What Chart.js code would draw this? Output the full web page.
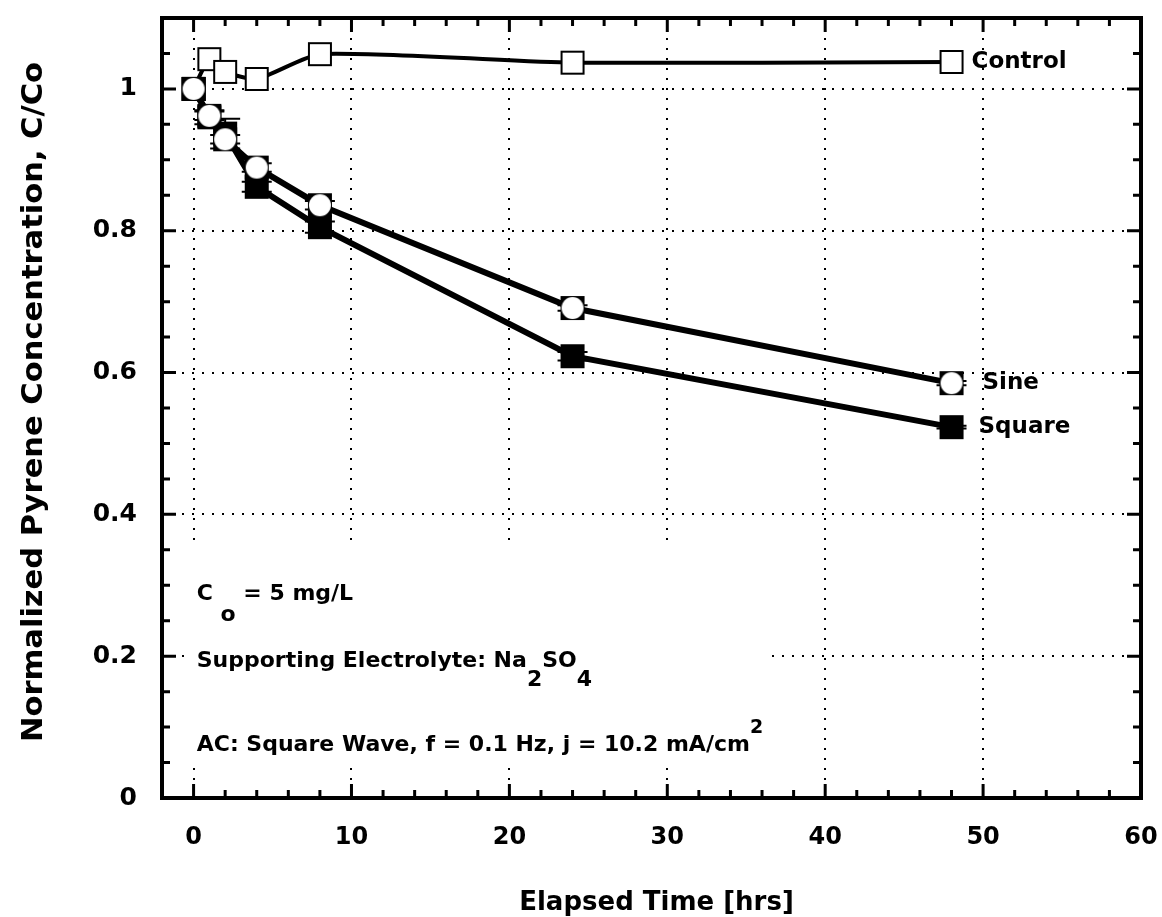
<!DOCTYPE html>
<html>
<head>
<meta charset="utf-8">
<script src="https://cdn.jsdelivr.net/npm/chart.js@4/dist/chart.umd.min.js"></script>
<style>
  html, body { margin: 0; padding: 0; background: #fff; }
</style>
</head>
<body>
<canvas id="pyreneChart" width="1162" height="917"></canvas>
<script>
// values
const timeHrs = [0, 1, 2, 4, 8, 24, 48];
const controlConc = [1.000, 1.042, 1.024, 1.014, 1.049, 1.037, 1.038];
const sineConc = [1.000, 0.962, 0.929, 0.889, 0.836, 0.691, 0.585];
const squareConc = [1.000, 0.960, 0.937, 0.862, 0.805, 0.623, 0.523];
const squareErr = [0, 0.010, 0.021, 0.007, 0.008, 0.006, 0.002];
const sineErr = [0, 0.006, 0.006, 0.006, 0.006, 0.004, 0.003];
const seriesNames = ['Sine', 'Square', 'Control'];
const xTickValues = [0, 10, 20, 30, 40, 50, 60];
const yTickValues = [0, 0.2, 0.4, 0.6, 0.8, 1];
const yTickLabels = ['0', '0.2', '0.4', '0.6', '0.8', '1'];

const FONT = 'DejaVu Sans';

function toPoints(ys) {
  return timeHrs.map((t, i) => ({ x: t, y: ys[i] }));
}

// small canvases used as point markers
function makeMarker(kind) {
  const c = document.createElement('canvas');
  c.width = 28; c.height = 28;
  const g = c.getContext('2d');
  if (kind === 'square') {
    g.fillStyle = '#000';
    g.fillRect(2, 2, 24, 24);
  } else if (kind === 'sine') {
    g.fillStyle = '#000';
    g.fillRect(2, 2, 24, 24);
    g.fillStyle = '#fff';
    g.beginPath();
    g.arc(14, 14, 11, 0, Math.PI * 2);
    g.fill();
  } else {
    g.fillStyle = '#fff';
    g.fillRect(3, 3, 22, 22);
    g.strokeStyle = '#000';
    g.lineWidth = 2;
    g.strokeRect(3, 3, 22, 22);
  }
  return c;
}

// draws text made of runs; shift > 0 lowers (subscript), < 0 raises
function drawRuns(ctx, x, y, runs, size) {
  let cx = x;
  runs.forEach(([text, shift, s]) => {
    ctx.font = 'bold ' + (s || size) + 'px "' + FONT + '"';
    ctx.fillText(text, cx, y + shift);
    cx += ctx.measureText(text).width;
  });
}

const labelOffsets = { Control: 20, Sine: 31, Square: 27 };

const decorations = {
  id: 'decorations',
  beforeDatasetsDraw(chart) {
    const { ctx, scales: { x, y } } = chart;
    ctx.save();
    // blank panel behind the notes (hides the grid)
    const bx0 = x.getPixelForValue(-0.35), bx1 = x.getPixelForValue(36.5);
    const by0 = y.getPixelForValue(0.353), by1 = y.getPixelForValue(0.05);
    ctx.fillStyle = '#fff';
    ctx.fillRect(bx0, by0, bx1 - bx0, by1 - by0);

    ctx.fillStyle = '#000';
    ctx.textAlign = 'left';
    ctx.textBaseline = 'alphabetic';
    const tx = x.getPixelForValue(0.2);
    drawRuns(ctx, tx, 600, [['C', 0], [' o', 21], [' = 5 mg/L', 0]], 22);
    drawRuns(ctx, tx, 667, [['Supporting Electrolyte: Na', 0], ['2', 19], ['SO', 0], ['4', 19]], 22);
    drawRuns(ctx, tx, 751, [['AC: Square Wave, f = 0.1 Hz, j = 10.2 mA/cm', 0], ['2', -18, 19]], 22);

    // error bars under the markers
    ctx.strokeStyle = '#000';
    ctx.lineWidth = 2;
    [[squareConc, squareErr], [sineConc, sineErr]].forEach(([vals, errs]) => {
      vals.forEach((v, i) => {
        if (!errs[i]) return;
        const px = x.getPixelForValue(timeHrs[i]);
        const hi = y.getPixelForValue(v + errs[i]);
        const lo = y.getPixelForValue(v - errs[i]);
        ctx.beginPath();
        ctx.moveTo(px, hi); ctx.lineTo(px, lo);
        ctx.moveTo(px - 15, hi); ctx.lineTo(px + 15, hi);
        ctx.moveTo(px - 15, lo); ctx.lineTo(px + 15, lo);
        ctx.stroke();
      });
    });
    ctx.restore();
  },
  afterDatasetsDraw(chart) {
    const { ctx, chartArea: a, scales: { x, y } } = chart;
    ctx.save();
    ctx.strokeStyle = '#000';

    // inward tick marks on all four sides
    ctx.lineWidth = 3;
    ctx.beginPath();
    for (let k = -1; k <= 30; k++) {
      const v = k * 2;
      const px = x.getPixelForValue(v);
      if (px <= a.left + 1 || px >= a.right - 1) continue;
      const len = v % 10 === 0 ? 14 : 8;
      ctx.moveTo(px, a.bottom); ctx.lineTo(px, a.bottom - len);
      ctx.moveTo(px, a.top); ctx.lineTo(px, a.top + len);
    }
    for (let k = 1; k <= 21; k++) {
      const py = y.getPixelForValue(k * 0.05);
      const len = k % 4 === 0 ? 14 : 8;
      ctx.moveTo(a.left, py); ctx.lineTo(a.left + len, py);
      ctx.moveTo(a.right, py); ctx.lineTo(a.right - len, py);
    }
    ctx.stroke();

    // frame
    ctx.lineWidth = 4;
    ctx.strokeRect(a.left, a.top, a.right - a.left, a.bottom - a.top);

    // series labels at the last point
    ctx.fillStyle = '#000';
    ctx.font = 'bold 23px "' + FONT + '"';
    ctx.textAlign = 'left';
    ctx.textBaseline = 'alphabetic';
    const last = timeHrs.length - 1;
    chart.data.datasets.forEach(ds => {
      const px = x.getPixelForValue(timeHrs[last]) + labelOffsets[ds.label];
      const py = y.getPixelForValue(ds.data[last].y) + 6;
      ctx.fillText(ds.label, px, py);
    });

    // axis titles
    ctx.font = 'bold 26px "' + FONT + '"';
    ctx.textAlign = 'center';
    ctx.fillText('Elapsed Time [hrs]', (a.left + a.right) / 2 + 5, 910);

    ctx.font = 'bold 28px "' + FONT + '"';
    const yTitle = 'Normalized Pyrene Concentration, C/Co';
    const stretch = 680 / ctx.measureText(yTitle).width;
    ctx.translate(42, 402);
    ctx.rotate(-Math.PI / 2);
    ctx.scale(stretch, 1);
    ctx.fillText(yTitle, 0, 0);
    ctx.restore();
  }
};

const ctx = document.getElementById('pyreneChart').getContext('2d');
new Chart(ctx, {
  type: 'scatter',
  data: {
    datasets: [
      {
        label: seriesNames[0],
        data: toPoints(sineConc),
        showLine: true,
        borderColor: '#000',
        borderWidth: 6,
        tension: 0,
        pointStyle: makeMarker('sine'),
        pointRadius: 12
      },
      {
        label: seriesNames[1],
        data: toPoints(squareConc),
        showLine: true,
        borderColor: '#000',
        borderWidth: 6,
        tension: 0,
        pointStyle: makeMarker('square'),
        pointRadius: 12
      },
      {
        label: seriesNames[2],
        data: toPoints(controlConc),
        showLine: true,
        borderColor: '#000',
        borderWidth: 4,
        tension: 0.2,
        pointStyle: makeMarker('control'),
        pointRadius: 12
      }
    ]
  },
  options: {
    responsive: false,
    animation: false,
    events: [],
    layout: { padding: { top: 17, right: 21, left: 0, bottom: 0 } },
    plugins: { legend: { display: false }, tooltip: { enabled: false } },
    scales: {
      x: {
        type: 'linear',
        min: -2,
        max: 60,
        afterBuildTicks: s => { s.ticks = xTickValues.map(v => ({ value: v })); },
        afterFit: s => {
          s.height = 119;
          s.paddingLeft = 0; s.paddingRight = 0;
          s.paddingTop = 0; s.paddingBottom = 0;
        },
        grid: {
          drawTicks: false,
          lineWidth: 2,
          color: c => (c.tick && c.tick.value === 60 ? 'rgba(0,0,0,0)' : '#000')
        },
        border: { display: false, dash: [2, 8] },
        ticks: {
          color: '#000',
          padding: 25,
          font: { family: FONT, size: 24, weight: 'bold' }
        }
      },
      y: {
        type: 'linear',
        min: 0,
        max: 1.1,
        afterBuildTicks: s => { s.ticks = yTickValues.map(v => ({ value: v })); },
        afterFit: s => {
          s.width = 162;
          s.paddingLeft = 0; s.paddingRight = 0;
          s.paddingTop = 0; s.paddingBottom = 0;
        },
        grid: {
          drawTicks: false,
          lineWidth: 2,
          color: c => (c.tick && c.tick.value === 0 ? 'rgba(0,0,0,0)' : '#000')
        },
        border: { display: false, dash: [2, 8] },
        ticks: {
          color: '#000',
          padding: 25,
          font: { family: FONT, size: 25, weight: 'bold' },
          callback: (v, i) => yTickLabels[i]
        }
      }
    }
  },
  plugins: [decorations]
});
</script>
</body>
</html>
